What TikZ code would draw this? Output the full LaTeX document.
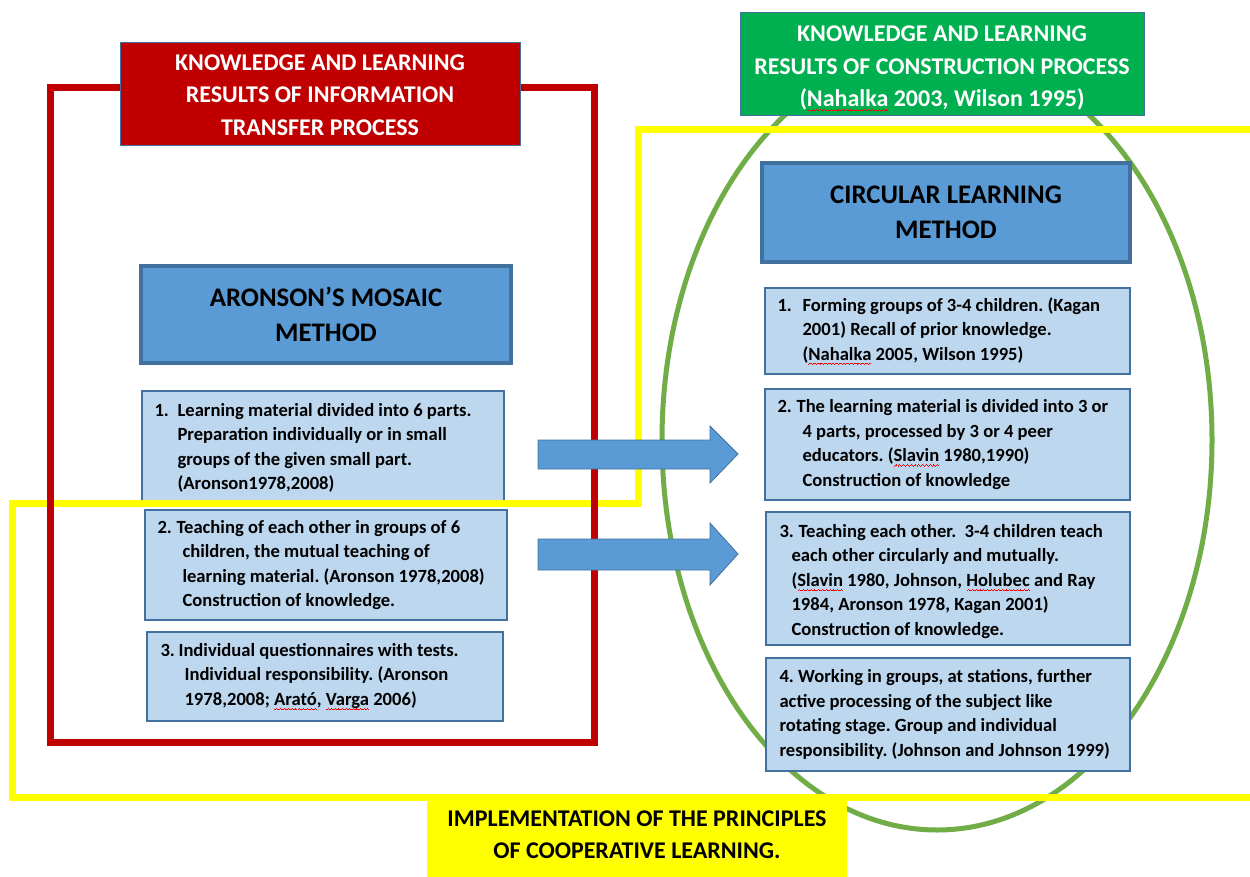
\documentclass[tikz,border=0pt]{standalone}
\usepackage{fontspec}
\setmainfont{Carlito}
\frenchspacing
\definecolor{redc}{HTML}{C00000}
\definecolor{greenh}{HTML}{00B050}
\definecolor{greenl}{HTML}{70AD47}
\definecolor{blued}{HTML}{41719C}
\definecolor{bluem}{HTML}{5B9BD5}
\definecolor{bluel}{HTML}{BDD7EE}
\definecolor{yel}{HTML}{FFFF00}
\newsavebox\sqwbox
\newcommand\wavebit{\rule[-4.6pt]{0.9pt}{0.7pt}\rule[-4.0pt]{0.9pt}{0.7pt}\rule[-3.4pt]{0.9pt}{0.7pt}\rule[-4.0pt]{0.9pt}{0.7pt}}
\newcommand\sqw[1]{\sbox\sqwbox{#1}\rlap{\hbox to\wd\sqwbox{\color{red}\xleaders\hbox{\wavebit}\hfil}}\usebox\sqwbox}
\newcommand\itm[2]{\makebox[#1][l]{#2}}
\newcommand\ind[1]{\hspace*{#1}}
\tikzset{
  lbox/.style={draw=blued, line width=1.3pt, fill=bluel, inner sep=0pt},
  tbox/.style={draw=blued, line width=4pt, fill=bluem, inner sep=0pt, align=center,
     font=\bfseries\fontsize{26.8}{35}\selectfont},
  txt/.style={anchor=west, align=left, inner sep=0pt, font=\bfseries\fontsize{18.6}{24.5}\selectfont},
  hdr/.style={draw=blued, line width=0.8pt, inner sep=0pt},
  hdrtxt/.style={text=white, align=center, inner sep=0pt, font=\bfseries\fontsize{24}{32.3}\selectfont},
  barrow/.style={draw=blued, line width=0.8pt, fill=bluem},
}
\begin{document}
\begin{tikzpicture}[x=1pt,y=-1pt]
\useasboundingbox[fill=white] (0,0) rectangle (1250,877);

% green ellipse
\draw[greenl, line width=5pt] (937,440) ellipse [x radius=275pt, y radius=390pt];

% title boxes
\node[tbox, minimum width=370pt, minimum height=97pt] (tl) at (326,314.5) {ARONSON’S MOSAIC\\METHOD};
\node[tbox, minimum width=368pt, minimum height=99pt] (tr) at (946,212.5) {CIRCULAR LEARNING\\METHOD};

% left boxes
\node[lbox, minimum width=362pt, minimum height=112pt] (l1) at (323,447) {};
\node[txt] (l1t) at ([xshift=13pt,yshift=-1pt]l1.west) {\itm{23pt}{1.}Learning material divided into 6 parts.\\
\ind{23pt}Preparation individually or in small\\
\ind{23pt}groups of the given small part.\\
\ind{23pt}(Aronson1978,2008)};

\node[lbox, minimum width=362pt, minimum height=110pt] (l2) at (326,565) {};
\node[txt] (l2t) at ([xshift=13pt]l2.west) {\itm{19pt}{2.}Teaching of each other in groups of 6\\
\ind{25pt}children, the mutual teaching of\\
\ind{25pt}learning material. (Aronson 1978,2008)\\
\ind{25pt}Construction of knowledge.};

\node[lbox, minimum width=356pt, minimum height=89pt] (l3) at (325,676.5) {};
\node[txt] (l3t) at ([xshift=14pt]l3.west) {\itm{18pt}{3.}Individual questionnaires with tests.\\
\ind{24pt}Individual responsibility. (Aronson\\
\ind{24pt}1978,2008; \sqw{Arató}, \sqw{Varga} 2006)};

% right boxes
\node[lbox, minimum width=365pt, minimum height=86pt] (r1) at (947.5,331) {};
\node[txt] (r1t) at ([xshift=13pt]r1.west) {\itm{25pt}{1.}Forming groups of 3-4 children. (Kagan\\
\ind{25pt}2001) Recall of prior knowledge.\\
\ind{25pt}(\sqw{Nahalka} 2005, Wilson 1995)};

\node[lbox, minimum width=365pt, minimum height=111pt] (r2) at (947.5,444.5) {};
\node[txt] (r2t) at ([xshift=13pt]r2.west) {\itm{19pt}{2.}The learning material is divided into 3 or\\
\ind{25pt}4 parts, processed by 3 or 4 peer\\
\ind{25pt}educators. (\sqw{Slavin} 1980,1990)\\
\ind{25pt}Construction of knowledge};

\node[lbox, minimum width=364pt, minimum height=133pt] (r3) at (948,578.5) {};
\node[txt] (r3t) at ([xshift=14pt,yshift=-3pt]r3.west) {\itm{19pt}{3.}Teaching each other.\ \ 3-4 children teach\\
\ind{12pt}each other circularly and mutually.\\
\ind{12pt}(\sqw{Slavin} 1980, Johnson, \sqw{Holubec} and Ray\\
\ind{12pt}1984, Aronson 1978, Kagan 2001)\\
\ind{12pt}Construction of knowledge.};

\node[lbox, minimum width=364pt, minimum height=113pt] (r4) at (948,714.5) {};
\node[txt] (r4t) at ([xshift=14pt]r4.west) {4. Working in groups, at stations, further\\
active processing of the subject like\\
rotating stage. Group and individual\\
responsibility. (Johnson and Johnson 1999)};

% yellow frame
\draw[yel, line width=7pt, line join=miter] (1262,130) -- (638,130) -- (638,503) -- (12,503) -- (12,797) -- (1262,797);

% red frame
\draw[redc, line width=7pt] (50,88) rectangle (594.5,742);

% headers
\node[hdr, fill=redc, minimum width=400pt, minimum height=103pt] (hl) at (320,93.5) {};
\node[hdrtxt] (hlt) at ([yshift=-1.5pt]hl.center) {KNOWLEDGE AND LEARNING\\RESULTS OF INFORMATION\\TRANSFER PROCESS};
\node[hdr, fill=greenh, minimum width=404pt, minimum height=103pt] (hr) at (942,63.5) {};
\node[hdrtxt] (hrt) at ([yshift=-5pt]hr.center) {KNOWLEDGE AND LEARNING\\RESULTS OF CONSTRUCTION PROCESS\\(\sqw{Nahalka} 2003, Wilson 1995)};

% block arrows
\draw[barrow] (538,440) -- (710,440) -- (710,426) -- (738,454) -- (710,483) -- (710,469) -- (538,469) -- cycle;
\draw[barrow] (538,539) -- (710,539) -- (710,523) -- (738,554) -- (710,585) -- (710,570) -- (538,570) -- cycle;

% bottom label
\node[fill=yel, minimum width=420pt, minimum height=77pt, inner sep=0pt] (bl) at (637,838.5) {};
\node[align=center, inner sep=0pt, font=\bfseries\fontsize{24}{32.3}\selectfont] (blt) at ([yshift=4pt]bl.center)
  {IMPLEMENTATION OF THE PRINCIPLES\\OF COOPERATIVE LEARNING.};
\end{tikzpicture}
\end{document}
